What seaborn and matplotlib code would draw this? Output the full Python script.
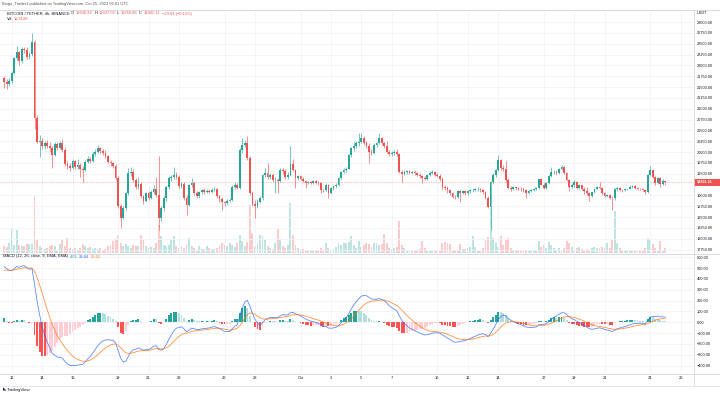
import matplotlib
matplotlib.use("Agg")
import matplotlib.pyplot as plt
from matplotlib.lines import Line2D
from matplotlib.patches import Rectangle
import numpy as np
import pandas as pd
import seaborn as sns

W, H = 720, 395

# BINANCE BTC/USDT, 4h candles from 2022-09-11 12:00 to 2022-10-25 00:00 UTC
first_open = 21700
close = [
    21620, 21560, 21650,                          # Sep 11 (12h-20h)
    21830, 22160, 22300, 22090, 22380, 22350,     # Sep 12
    22200, 22260, 22550, 20780, 20240, 20260,     # Sep 13
    20130, 20200, 20150, 20090, 19930, 20180,     # Sep 14
    20100, 20200, 20050, 19720, 19680, 19640,     # Sep 15
    19790, 19650, 19700, 19620, 19590, 19780,     # Sep 16
    19850, 19800, 19960, 20000, 20090, 20020,     # Sep 17
    19990, 19900, 19780, 19740, 19690, 19400,     # Sep 18
    18760, 18480, 18700, 19050, 19510, 19550,     # Sep 19
    19360, 19200, 19260, 18980, 18880, 19050,     # Sep 20
    18950, 19080, 19150, 19000, 18480, 18700,     # Sep 21
    18930, 19200, 19400, 19420, 19480, 19430,     # Sep 22
    19220, 19260, 18950, 18780, 19240, 19280,     # Sep 23
    19050, 18980, 19080, 19120, 19080, 19100,     # Sep 24
    19090, 19130, 19150, 18980, 18910, 18840,     # Sep 25
    18830, 18880, 18900, 19200, 19250, 19180,     # Sep 26
    20050, 20170, 20220, 19860, 19050, 18800,     # Sep 27
    18760, 18850, 18940, 19470, 19510, 19420,     # Sep 28
    19470, 19360, 19360, 19330, 19590, 19560,     # Sep 29
    19420, 19480, 19720, 19590, 19400, 19440,     # Sep 30
    19380, 19330, 19290, 19310, 19290, 19330,     # Oct 1
    19290, 19280, 19130, 19120, 19250, 19050,     # Oct 2
    19170, 19220, 19250, 19400, 19550, 19580,     # Oct 3
    19620, 19930, 20090, 20150, 20200, 20240,     # Oct 4
    20320, 20200, 20150, 20010, 19990, 20160,     # Oct 5
    20200, 20320, 20200, 20150, 20010, 19950,     # Oct 6
    19980, 20010, 19960, 19550, 19500, 19540,     # Oct 7
    19560, 19520, 19540, 19510, 19480, 19440,     # Oct 8
    19400, 19390, 19470, 19520, 19540, 19480,     # Oct 9
    19450, 19380, 19200, 19170, 19120, 19050,     # Oct 10
    18970, 18960, 19100, 19050, 19100, 19050,     # Oct 11
    19100, 19120, 19130, 19140, 19150, 19120,     # Oct 12
    19080, 18950, 18740, 19300, 19470, 19590,     # Oct 13
    19820, 19630, 19610, 19360, 19170, 19160,     # Oct 14
    19190, 19170, 19160, 19140, 19120, 19050,     # Oct 15
    19110, 19130, 19150, 19170, 19370, 19250,     # Oct 16
    19170, 19280, 19450, 19530, 19550, 19510,     # Oct 17
    19620, 19650, 19520, 19360, 19200, 19230,     # Oct 18
    19320, 19170, 19230, 19160, 19100, 19050,     # Oct 19
    18990, 19070, 19160, 19190, 19180, 19050,     # Oct 20
    18990, 19010, 18950, 18930, 19140, 19170,     # Oct 21
    19130, 19120, 19150, 19160, 19200, 19210,     # Oct 22
    19170, 19160, 19150, 19130, 19080, 19470,     # Oct 23
    19590, 19420, 19280, 19400, 19260, 19330.92,  # Oct 24
    19301.11,                                     # Oct 25
]
high = [
    21760, 21680, 21700,
    21870, 22200, 22440, 22330, 22420, 22430,
    22420, 22310, 22740, 22590, 20850, 20400,
    20330, 20260, 20290, 20230, 20140, 20230,
    20230, 20260, 20300, 20120, 19790, 19760,
    19830, 19820, 19850, 19740, 19680, 19820,
    19900, 19890, 20000, 20060, 20170, 20120,
    20070, 20040, 19930, 19820, 19770, 19720,
    19440, 18800, 18760, 19080, 19630, 19660,
    19600, 19400, 19420, 19300, 19020, 19090,
    19100, 19120, 19230, 19430, 19900, 18760,
    18980, 19240, 19450, 19480, 19650, 19530,
    19470, 19320, 19300, 19000, 19260, 19400,
    19310, 19100, 19110, 19160, 19180, 19140,
    19150, 19170, 19190, 19180, 19010, 18960,
    18880, 18920, 18950, 19230, 19300, 19290,
    20100, 20320, 20290, 20360, 19900, 19110,
    18900, 18920, 18990, 19500, 19640, 19740,
    19520, 19510, 19420, 19410, 19630, 19640,
    19600, 19530, 20140, 19840, 19620, 19480,
    19470, 19420, 19360, 19340, 19340, 19360,
    19360, 19330, 19300, 19160, 19280, 19270,
    19190, 19250, 19290, 19420, 19570, 19640,
    19660, 19960, 20120, 20230, 20250, 20430,
    20430, 20360, 20250, 20200, 20060, 20200,
    20240, 20430, 20350, 20240, 20260, 20050,
    20020, 20050, 20060, 19990, 19580, 19580,
    19590, 19590, 19570, 19580, 19540, 19510,
    19470, 19440, 19490, 19560, 19590, 19570,
    19520, 19490, 19420, 19240, 19210, 19150,
    19080, 19010, 19130, 19130, 19130, 19120,
    19130, 19150, 19170, 19180, 19190, 19170,
    19150, 19100, 18980, 19340, 19520, 19620,
    19930, 19850, 19700, 19800, 19400, 19220,
    19220, 19220, 19200, 19190, 19170, 19150,
    19130, 19160, 19180, 19200, 19390, 19400,
    19290, 19300, 19470, 19650, 19590, 19580,
    19640, 19700, 19680, 19540, 19380, 19280,
    19350, 19340, 19260, 19250, 19200, 19200,
    19080, 19090, 19180, 19220, 19300, 19200,
    19070, 19040, 19030, 18990, 19170, 19200,
    19190, 19160, 19170, 19180, 19230, 19240,
    19230, 19190, 19180, 19170, 19150, 19490,
    19680, 19620, 19440, 19420, 19420, 19370,
    19337.09,
]
low = [
    21470, 21450, 21520,
    21600, 21800, 22120, 22000, 22060, 22280,
    22150, 22150, 22220, 20540, 20200, 19880,
    20070, 20080, 20100, 20030, 19630, 19900,
    20050, 20060, 20000, 19680, 19600, 19560,
    19600, 19620, 19600, 19420, 19320, 19560,
    19740, 19760, 19780, 19920, 19970, 19990,
    19940, 19860, 19740, 19690, 19640, 19360,
    18700, 18240, 18450, 18660, 19020, 19440,
    19300, 19150, 19160, 18940, 18800, 18850,
    18900, 18920, 19030, 18960, 18200, 18400,
    18640, 18880, 19150, 19340, 19380, 19380,
    19180, 19170, 18900, 18550, 18750, 19200,
    19020, 18930, 18950, 19040, 19040, 19050,
    19050, 19060, 19100, 18950, 18860, 18660,
    18760, 18790, 18850, 18870, 19160, 19140,
    19140, 19980, 20120, 19820, 19000, 18750,
    18480, 18700, 18820, 18900, 19420, 19380,
    19380, 19320, 19050, 19050, 19300, 19500,
    19380, 19390, 19450, 19560, 19170, 19360,
    19350, 19300, 19170, 19260, 19260, 19270,
    19260, 19240, 19060, 19080, 19100, 18940,
    19030, 19130, 19180, 19220, 19370, 19510,
    19540, 19600, 19880, 20030, 20100, 20150,
    20200, 20170, 20100, 19740, 19930, 19960,
    20120, 20180, 20160, 20100, 19980, 19900,
    19910, 19940, 19920, 19520, 19300, 19470,
    19500, 19490, 19490, 19470, 19440, 19400,
    19290, 19350, 19360, 19440, 19490, 19450,
    19420, 19340, 19130, 19120, 19050, 19010,
    18940, 18920, 18940, 18860, 19030, 19010,
    19010, 19060, 19090, 19100, 19110, 19080,
    19040, 18920, 18700, 18200, 19260, 19430,
    19560, 19590, 19560, 19320, 19140, 19110,
    19120, 19130, 19120, 19100, 19080, 18950,
    19030, 19080, 19100, 19120, 19150, 19230,
    19140, 19150, 19260, 19420, 19490, 19480,
    19490, 19590, 19500, 19330, 19110, 19170,
    19200, 19150, 19150, 19120, 19040, 19020,
    18880, 18970, 19050, 19140, 19150, 19020,
    18960, 18960, 18920, 18660, 18900, 19110,
    19100, 19090, 19100, 19130, 19140, 19170,
    19150, 19130, 19120, 19100, 19030, 19060,
    19450, 19400, 19250, 19260, 19200, 19240,
    19250.88,
]
volume_k = [
    17, 15, 25,
    60, 20, 58, 20, 17, 18,
    22, 22, 23, 143, 32, 18,
    13, 10, 12, 17, 20, 18,
    8, 23, 33, 17, 37, 12,
    10, 12, 8, 12, 23, 18,
    12, 15, 10, 12, 10, 12,
    8, 10, 17, 20, 30, 32,
    45, 25, 18, 22, 18, 12,
    20, 18, 18, 45, 32, 18,
    12, 15, 12, 25, 70, 42,
    20, 18, 20, 32, 42, 18,
    12, 18, 12, 20, 38, 18,
    12, 8, 18, 10, 10, 18,
    12, 10, 10, 12, 18, 25,
    20, 18, 25, 20, 15, 25,
    45, 30, 18, 28, 120, 50,
    18, 25, 45, 42, 32, 18,
    12, 10, 25, 60, 35, 18,
    12, 20, 125, 45, 20, 12,
    8, 10, 8, 8, 8, 8,
    6, 8, 12, 8, 25, 12,
    8, 10, 15, 25, 20, 25,
    25, 28, 42, 20, 12, 30,
    15, 20, 25, 22, 15, 25,
    25, 20, 22, 48, 25, 12,
    10, 12, 15, 80, 20, 12,
    8, 6, 5, 5, 8, 10,
    30, 12, 5, 5, 4, 5,
    5, 8, 25, 28, 25, 22,
    8, 8, 8, 22, 10, 10,
    12, 15, 42, 15, 8, 5,
    12, 33, 40, 112, 38, 25,
    15, 42, 20, 32, 38, 12,
    8, 8, 5, 5, 5, 8,
    5, 5, 5, 5, 30, 15,
    20, 12, 28, 20, 12, 8,
    12, 5, 12, 30, 25, 15,
    8, 12, 15, 10, 5, 10,
    5, 12, 15, 12, 12, 15,
    12, 25, 12, 32, 105, 25,
    12, 8, 5, 5, 4, 4,
    4, 5, 5, 5, 12, 38,
    32, 22, 12, 8, 30, 8,
    11.312,
]

# EMA state just before the first visible candle (MACD ~520, signal ~470 at left edge)
ema_fast_seed = 21300
ema_slow_seed = 20770
signal_seed = 470

# candle index of each date label (0 = Sep 12 00:00)
date_ticks = [0, 12, 24, 42, 54, 66, 84, 96, 114, 126, 138, 150, 168, 180, 192, 210, 222, 234, 252, 264]
date_labels = ["12", "14", "16", "19", "21", "23", "26", "28", "Oct", "3", "5", "7",
               "10", "12", "14", "17", "19", "21", "24", "26"]
price_ticks = [17750, 18000, 18250, 18500, 18750, 19000, 19500, 19750, 20000, 20250,
               20500, 20750, 21000, 21250, 21500, 21750, 22000, 22250, 22500, 22750, 23000]
macd_ticks = [-400, -300, -200, -100, 0, 100, 200, 300, 400, 500, 600]
last_price = 19301.11

UP, DOWN = "#26a69a", "#ef5350"
TEXT, GRID, BORDER = "#131722", "#f0f3fa", "#d1d4dc"

sns.set_theme(style="white")
plt.rcParams["font.family"] = ["Liberation Sans", "DejaVu Sans"]

df = pd.DataFrame({"close": close, "high": high, "low": low, "volume": volume_k})
df["x"] = np.arange(len(df)) - 3
df["open"] = [first_open] + close[:-1]
df["up"] = df["close"] >= df["open"]

fast = pd.Series([ema_fast_seed] + close).ewm(span=12, adjust=False).mean().iloc[1:].to_numpy()
slow = pd.Series([ema_slow_seed] + close).ewm(span=26, adjust=False).mean().iloc[1:].to_numpy()
macd = fast - slow
signal = pd.Series([signal_seed] + list(macd)).ewm(span=9, adjust=False).mean().iloc[1:].to_numpy()
hist = macd - signal
prev = np.r_[hist[0], hist[:-1]]
hist_colors = np.where(hist >= 0,
                       np.where(hist >= prev, "#26a69a", "#b2dfdb"),
                       np.where(hist <= prev, "#ff5252", "#ffcdd2"))

fig = plt.figure(figsize=(W / 100, H / 100), dpi=100)


def box(x0, y0, x1, y1):
    return [x0 / W, 1 - y1 / H, (x1 - x0) / W, (y1 - y0) / H]


def fy(y_px):
    return 1 - y_px / H


ax_v = fig.add_axes(box(0, 10, 693, 253))
ax_p = fig.add_axes(box(0, 10, 693, 253), sharex=ax_v)
ax_m = fig.add_axes(box(0, 254, 693, 373), sharex=ax_v)
ax_p.set_facecolor("none")

# volume overlay
vol_colors = [(0.149, 0.651, 0.604, 0.3) if u else (0.937, 0.325, 0.314, 0.3) for u in df["up"]]
ax_v.bar(df["x"], df["volume"], width=0.75, color=vol_colors, linewidth=0)
ax_v.set_ylim(0, 610)
ax_v.set_axis_off()

# candles
cols = np.where(df["up"], UP, DOWN)
ax_p.vlines(df["x"], df["low"], df["high"], colors=cols, lw=0.45)
body_lo = np.minimum(df["open"], df["close"])
body_h = np.maximum((df["close"] - df["open"]).abs(), 8)
ax_p.bar(df["x"], body_h, bottom=body_lo, width=0.7, color=cols, linewidth=0)
ax_p.axhline(last_price, color=DOWN, lw=0.5, ls=(0, (1, 1.5)), alpha=0.7)

ax_p.set_ylim(17673, 23277)
ax_p.yaxis.tick_right()
ax_p.set_yticks(price_ticks, [f"{v:.2f}" for v in price_ticks])
ax_p.tick_params(axis="y", length=0, pad=2.9, labelsize=2.8, labelcolor=TEXT)
ax_p.tick_params(axis="x", length=0, labelbottom=False)
ax_p.grid(True, color=GRID, lw=0.6)
ax_p.set_axisbelow(True)

# MACD pane
ax_m.bar(df["x"], hist, width=0.75, color=hist_colors, linewidth=0)
sns.lineplot(x=df["x"], y=macd, ax=ax_m, color="#2962ff", lw=0.6, alpha=0.75)
sns.lineplot(x=df["x"], y=signal, ax=ax_m, color="#ff6d00", lw=0.6, alpha=0.75)
ax_m.set_ylim(-468.5, 630.7)
ax_m.yaxis.tick_right()
ax_m.set_yticks(macd_ticks, [f"{v:.2f}".replace("-", "\u2212") for v in macd_ticks])
ax_m.set_xticks(date_ticks, date_labels)
ax_m.tick_params(axis="y", length=0, pad=2.9, labelsize=2.8, labelcolor=TEXT)
ax_m.tick_params(axis="x", length=0, pad=2.2, labelsize=2.9, labelcolor=TEXT)
ax_m.grid(True, color=GRID, lw=0.6)
ax_m.set_axisbelow(True)
ax_m.set_xlabel("")
ax_m.set_ylabel("")
ax_p.set_xlim(-4.62, 268.9)

for ax in (ax_p, ax_m):
    for s in ax.spines.values():
        s.set_visible(False)

# pane borders
for y in (9.5, 253.5, 373.5):
    fig.add_artist(Line2D([0, 1], [fy(y), fy(y)], color=BORDER, lw=0.6))
fig.add_artist(Line2D([693.5 / W, 693.5 / W], [fy(385), fy(9.5)], color=BORDER, lw=0.6))
fig.add_artist(Line2D([0, 1], [fy(385.5), fy(385.5)], color=BORDER, lw=0.4))

# last price label on the axis
fig.canvas.draw()
_, py = fig.transFigure.inverted().transform(ax_p.transData.transform((0, last_price)))
fig.add_artist(Rectangle((694 / W, py - 3.6 / H), 26 / W, 7.2 / H, transform=fig.transFigure,
                         facecolor=DOWN, edgecolor="none"))
fig.text(697 / W, py, f"{last_price:.2f}", color="white", fontsize=2.8, va="center", ha="left",
         fontweight="bold")
fig.text(697 / W, fy(13), "USDT", color=TEXT, fontsize=2.8, va="center", ha="left")

renderer = fig.canvas.get_renderer()


def text_run(x_px, y_px, parts, size=2.9, gap=1.6):
    x = x_px
    for s, c in parts:
        t = fig.text(x / W, fy(y_px), s, color=c, fontsize=size, va="center", ha="left")
        x += t.get_window_extent(renderer).width + gap


text_run(2, 4.5, [("Bingo_Trader1 published on TradingView.com, Oct 25, 2022 02:01 UTC", "#50535e")])
text_run(7, 13.5, [("BITCOIN / TETHER, 4h, BINANCE", TEXT), ("O", TEXT), ("19330.92", DOWN),
                   ("H", TEXT), ("19337.09", DOWN), ("L", TEXT), ("19250.88", DOWN),
                   ("C", TEXT), ("19301.11", DOWN), ("\u221229.81 (\u22120.15%)", DOWN)])
text_run(7, 19.5, [("Vol", TEXT), ("11.312K", DOWN)])
text_run(3, 256.5, [("MACD (12, 26, close, 9, EMA, EMA)", TEXT), ("4.01", UP),
                    ("29.64", "#2962ff"), ("25.62", "#ff6d00")])
text_run(3, 389.5, [("\u25e3", TEXT), ("TradingView", TEXT)], size=3.2, gap=0.8)

fig.savefig("out.png", dpi=100)
